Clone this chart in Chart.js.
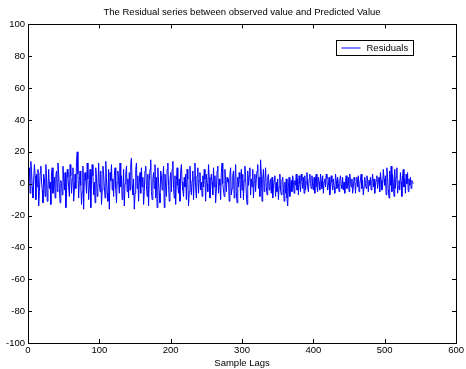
<!DOCTYPE html>
<html>
<head>
<meta charset="utf-8">
<script src="https://cdn.jsdelivr.net/npm/chart.js@4"></script>
<style>
  body { margin: 0; background: #fff; }
  canvas { display: block; }
</style>
</head>
<body>
<canvas id="js--chart--1" width="466" height="369"></canvas>
<script>
// residuals, sample 1..540
const residuals = [
    2, 10, -6, 14, 7, -2, -9, 3, 12, 5, -10, 6, -2, 9, -14, -5, 7, 11, 1, -4,
    -12, 6, 3, -8, 12, 4, -11, -3, 9, -3, 1, -13, 7, 10, -6, -1, 4, -9, 5, 8,
    -5, 13, 6, -3, -12, 2, 0, -7, 11, 3, -4, 7, -15, -6, 9, 4, -2, -8, 12, 5,
    -6, 3, 10, -11, -4, 6, -3, 14, 20, 6, -9, 2, 8, -1, -13, -5, 11, -16, 4, 7,
    2, -6, 13, 3, -10, -2, 9, -15, 3, 12, 5, -7, 1, -12, 10, 4, -8, -3, 13, 0,
    -5, 8, -13, -4, 11, 6, -2, -9, 14, 3, -6, -11, 9, -16, 7, 2, 12, -4, 3, -8,
    5, 10, -3, -12, 1, 8, 2, -6, 13, -2, 5, -10, -4, 9, -14, 0, 6, 11, -5, 3,
    -9, 7, -4, 12, 16, -1, -7, 3, -16, -6, 9, 13, -3, 5, -11, 1, 7, -6, 10, -2,
    4, -13, -5, 8, 11, -1, -8, 6, -14, 2, 9, 15, -5, -10, 3, 7, -3, 12, -9, 4,
    -15, 10, 1, -6, -12, 8, 5, -4, 3, 11, -15, 6, -2, -8, 9, 13, -1, -11, 2, 7,
    -5, 9, 14, -3, -9, 5, -13, 2, 10, -1, -6, 3, -11, 8, 12, 1, -4, -8, 4, -2,
    6, -10, 9, 3, -14, -5, 11, 0, -7, 2, 8, -10, 4, 13, -3, -9, 5, 10, -6, 2,
    7, -4, 1, -8, 5, -2, 9, 3, -11, 6, 0, -5, 12, 4, -9, -3, 6, 1, -7, 10,
    -2, 5, -12, -4, 8, 11, -6, 3, -1, -10, 7, 13, 0, -4, -8, 9, 2, -5, 4, 1,
    3, -11, 6, 10, -7, -3, 5, 8, -9, 2, 12, -5, -12, 4, -2, 7, 3, -9, 9, -4,
    6, -10, 2, 11, 4, -6, -13, 8, -1, 5, 10, -7, 3, -2, 9, -9, 1, 6, -5, 3,
    8, 12, -3, 4, -8, 15, 6, -11, 3, 9, -5, 1, 10, -2, -7, 4, 6, -4, 0, 3,
    -6, 4, -9, -3, 2, 5, -8, 1, -5, 3, -10, -2, 6, -4, -7, 2, 4, -3, -11, 1,
    -6, 3, -9, -14, -2, 4, -8, -3, 2, -5, 5, 1, -6, 2, -1, 6, -4, 3, -7, 5,
    0, -5, 6, 2, -3, 4, -6, 5, -4, 1, 7, -2, -5, 3, 6, 0, -3, 5, -1, -4,
    4, -6, 3, 6, -2, -5, 4, 1, -4, 6, 2, -3, 5, -6, 1, 3, -2, 6, 3, -4,
    -1, 4, -7, -2, 5, 1, -4, 3, -2, -6, 6, 2, -3, 4, 0, -5, 2, 5, -1, -3,
    4, -4, 1, -6, 2, 5, -3, -1, 4, -5, 6, 2, -2, 3, -6, -2, 4, 2, -6, 1,
    4, -2, 5, -5, -1, 3, 6, -3, 2, -7, -2, 4, 0, -3, 5, 3, -5, 2, -1, 4,
    -4, 1, 6, -2, 3, -6, -1, 2, 5, -3, 1, 4, -5, 7, 2, -4, -2, 9, 3, -1,
    5, -7, 10, 4, -3, -9, 8, -1, 11, -5, 6, 1, -8, 9, -3, 4, 10, -6, -2, 2,
    -4, 7, 1, -8, 5, 9, -2, 3, -6, 6, 0, 7, -5, 3, -1, 4, -3, 2, 1, 0
];
const lags = residuals.map(function(v, i){ return i + 1; });

const xTicks = [0, 100, 200, 300, 400, 500, 600];
const yTicks = [-100, -80, -60, -40, -20, 0, 20, 40, 60, 80, 100];

const chartTitle = "The Residual series between observed value and Predicted Value";
const xTitle = "Sample Lags";
const seriesName = "Residuals";

const fontFamily = "'Liberation Sans', Arial, Helvetica, sans-serif";
const fontSize = 9.5;

// box around the axes with matlab style inward ticks, plus the legend box
const matlabBox = {
    id: "matlabBox",
    afterDraw: function(chart){
        const ctx = chart.ctx;
        const a = chart.chartArea;
        const xs = chart.scales.x;
        const ys = chart.scales.y;
        ctx.save();
        ctx.strokeStyle = "#000";
        ctx.lineWidth = 1;
        ctx.strokeRect(Math.round(a.left) + 0.5, Math.round(a.top) + 0.5,
            Math.round(a.right - a.left), Math.round(a.bottom - a.top));
        ctx.beginPath();
        xTicks.forEach(function(t){
            const px = Math.round(xs.getPixelForValue(t)) + 0.5;
            ctx.moveTo(px, a.bottom); ctx.lineTo(px, a.bottom - 4);
            ctx.moveTo(px, a.top); ctx.lineTo(px, a.top + 4);
        });
        yTicks.forEach(function(t){
            const py = Math.round(ys.getPixelForValue(t)) + 0.5;
            ctx.moveTo(a.left, py); ctx.lineTo(a.left + 4, py);
            ctx.moveTo(a.right, py); ctx.lineTo(a.right - 4, py);
        });
        ctx.stroke();

        // legend
        const lx = 336.5, ly = 40.5, lw = 77, lh = 15;
        ctx.fillStyle = "#fff";
        ctx.fillRect(lx, ly, lw, lh);
        ctx.strokeStyle = "#000";
        ctx.strokeRect(lx, ly, lw, lh);
        ctx.strokeStyle = "#0000ff";
        ctx.beginPath();
        ctx.moveTo(lx + 5, ly + 7.5); ctx.lineTo(lx + 24, ly + 7.5);
        ctx.stroke();
        ctx.fillStyle = "#000";
        ctx.font = fontSize + "px " + fontFamily;
        ctx.textBaseline = "middle";
        ctx.textAlign = "left";
        ctx.fillText(seriesName, lx + 30, ly + 8);
        ctx.restore();
    }
};

const data = {
    labels: lags,
    datasets: [
        {
            label: seriesName,
            data: residuals,
            borderColor: "#0000ff",
            borderWidth: 1,
            pointRadius: 0,
            tension: 0,
            fill: false
        }
    ]
};

const config = {
    type: "line",
    data: data,
    options: {
        responsive: false,
        devicePixelRatio: 1,
        animation: false,
        layout: { padding: { left: 0, right: 2, top: 0, bottom: 0 } },
        plugins: {
            legend: { display: false },
            tooltip: { enabled: false },
            title: {
                display: true,
                fullSize: false,
                text: chartTitle,
                color: "#000",
                font: { family: fontFamily, size: fontSize, weight: "normal" },
                padding: { top: 7, bottom: 6 }
            }
        },
        scales: {
            x: {
                type: "linear",
                min: 0,
                max: 600,
                afterBuildTicks: function(scale){
                    scale.ticks = xTicks.map(function(v){ return { value: v }; });
                },
                afterFit: function(scale){ scale.height = 26; },
                grid: { display: false, drawTicks: false },
                border: { display: false },
                ticks: {
                    color: "#000",
                    padding: 2,
                    maxRotation: 0,
                    font: { family: fontFamily, size: fontSize }
                },
                title: {
                    display: true,
                    text: xTitle,
                    color: "#000",
                    padding: { top: 0, bottom: 0 },
                    font: { family: fontFamily, size: fontSize }
                }
            },
            y: {
                min: -100,
                max: 100,
                afterBuildTicks: function(scale){
                    scale.ticks = yTicks.map(function(v){ return { value: v }; });
                },
                afterFit: function(scale){ scale.width = 28; },
                grid: { display: false, drawTicks: false },
                border: { display: false },
                ticks: {
                    color: "#000",
                    padding: 3,
                    font: { family: fontFamily, size: fontSize }
                }
            }
        }
    },
    plugins: [matlabBox]
};

const chart1 = new Chart(document.getElementById("js--chart--1"), config);
</script>
</body>
</html>
